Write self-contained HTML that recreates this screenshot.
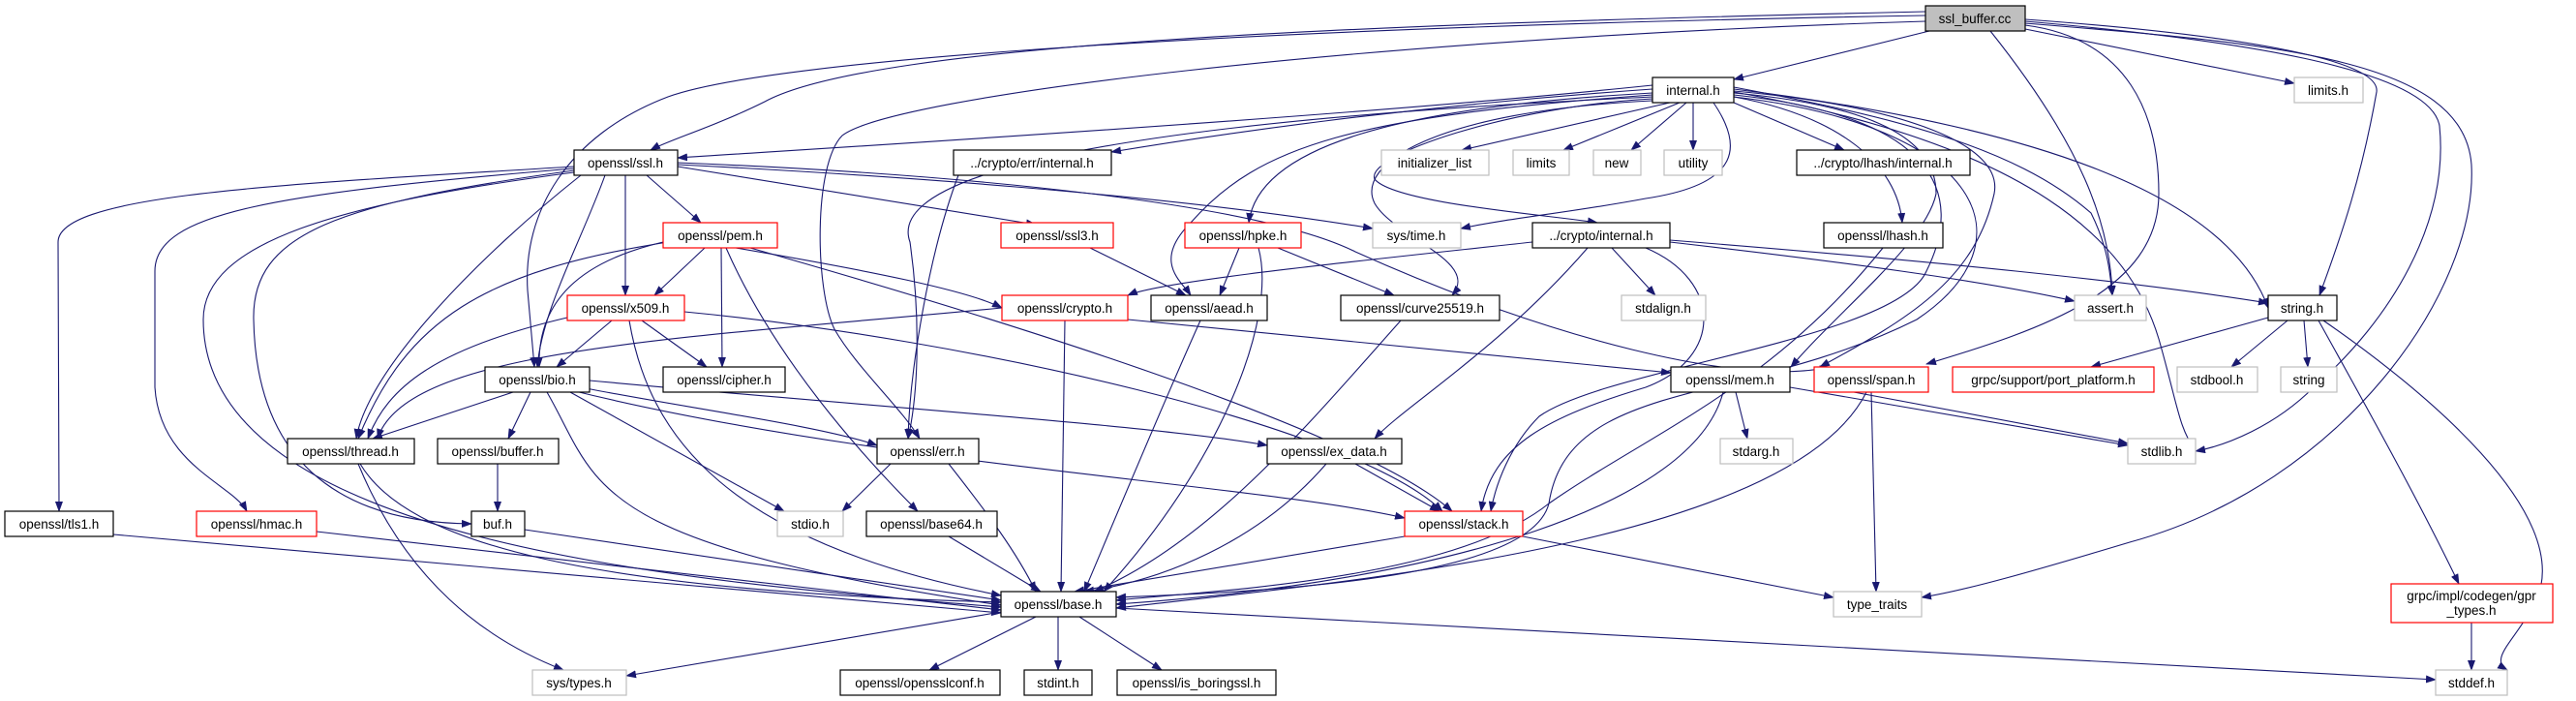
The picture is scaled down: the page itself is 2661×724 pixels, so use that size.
<!DOCTYPE html>
<html><head><meta charset="utf-8"><style>
html,body{margin:0;padding:0;background:#fff;}
svg{display:block;}
text{font-family:"Liberation Sans",sans-serif;font-size:13.5px;fill:#000;text-anchor:middle;}
.e{fill:none;stroke:#191970;stroke-width:1.1;marker-end:url(#a);}
.n{fill:#fff;stroke:#000;stroke-width:1.2;}
.g{fill:#fff;stroke:#bfbfbf;stroke-width:1.2;}
.r{fill:#fff;stroke:#ff0000;stroke-width:1.2;}
</style></head><body>
<svg width="2661" height="724" viewBox="0 0 2661 724" xmlns="http://www.w3.org/2000/svg">
<defs><marker id="a" markerWidth="11" markerHeight="8" refX="10" refY="4" orient="auto" markerUnits="userSpaceOnUse"><path d="M0,0 L11,4 L0,8 z" fill="#191970"/></marker></defs>
<g>
<path class="e" d="M1993,32 L1791,82"/>
<path class="e" d="M1989,12 C1400,25 900,45 790,105 C740,130 690,145 672,155"/>
<path class="e" d="M1989,16 C1300,28 800,60 690,100 C585,140 540,220 545,300 L552,379"/>
<path class="e" d="M1989,22 C1400,40 920,100 870,140 C840,170 842,300 862,340 C885,380 930,420 950,453"/>
<path class="e" d="M2056,32 C2150,150 2180,230 2182,305"/>
<path class="e" d="M2092,30 L2370,86"/>
<path class="e" d="M2092,20 C2300,35 2460,60 2455,95 C2440,180 2420,240 2396,305"/>
<path class="e" d="M2092,22 C2300,40 2510,70 2520,130 C2530,230 2470,330 2390,400 C2350,440 2300,460 2268,466"/>
<path class="e" d="M2092,24 C2350,45 2545,60 2553,170 C2560,300 2420,500 2200,560 C2100,590 2030,610 1985,617"/>
<path class="e" d="M2092,26 C2200,40 2230,120 2230,200 C2230,300 2110,340 1990,376"/>
<path class="e" d="M1707,88 C1400,120 900,150 700,163"/>
<path class="e" d="M1707,92 C1450,110 1250,140 1148,157"/>
<path class="e" d="M1725,106 L1510,155"/>
<path class="e" d="M1735,106 L1615,155"/>
<path class="e" d="M1742,106 L1685,155"/>
<path class="e" d="M1749,106 L1749,155"/>
<path class="e" d="M1707,96 C1450,110 1300,150 1290,230"/>
<path class="e" d="M1707,98 C1400,120 1300,150 1230,230 C1190,270 1220,290 1230,305"/>
<path class="e" d="M1707,100 C1500,110 900,140 940,250 C950,320 950,400 938,453"/>
<path class="e" d="M1770,106 C1800,150 1800,190 1700,205 C1620,220 1560,225 1509,236"/>
<path class="e" d="M1707,102 C1560,110 1410,160 1420,185 C1440,210 1600,222 1650,230"/>
<path class="e" d="M1707,104 C1480,115 1400,170 1420,210 C1440,245 1530,270 1500,305"/>
<path class="e" d="M1791,106 L1905,155"/>
<path class="e" d="M1791,100 C1900,120 1960,170 1965,230"/>
<path class="e" d="M1791,96 C1950,110 2000,150 2000,200 C1990,250 1900,320 1850,379"/>
<path class="e" d="M1791,94 C1970,110 2070,150 2060,200 C2040,290 1970,330 1880,379"/>
<path class="e" d="M1791,98 C2000,120 2030,200 1990,280 C1960,350 1660,380 1590,430 C1560,460 1545,500 1540,528"/>
<path class="e" d="M1791,100 C2050,130 2100,250 1980,330 C1800,420 1620,390 1600,520 C1580,600 1300,611 1153,617"/>
<path class="e" d="M1791,95 C2100,150 2200,250 2230,350 C2250,420 2250,440 2268,466"/>
<path class="e" d="M1791,92 C2100,130 2300,200 2343,318"/>
<path class="e" d="M1791,90 C1950,120 2080,150 2160,220 C2180,260 2180,290 2182,305"/>
<path class="e" d="M593,172 C300,190 60,200 60,250 L61,528"/>
<path class="e" d="M593,174 C280,200 160,220 160,280 L160,400 C165,480 240,500 255,528"/>
<path class="e" d="M593,176 C350,210 260,240 262,330 C265,500 380,540 487,541"/>
<path class="e" d="M593,178 C350,210 210,250 210,330 C210,560 700,600 1034,627"/>
<path class="e" d="M600,181 C500,260 380,380 368,453"/>
<path class="e" d="M625,181 C600,250 560,320 555,379"/>
<path class="e" d="M646,181 L646,305"/>
<path class="e" d="M668,181 L724,230"/>
<path class="e" d="M700,172 L1070,232"/>
<path class="e" d="M700,170 C900,180 1200,200 1418,236"/>
<path class="e" d="M700,168 C1000,180 1300,210 1400,260 C1600,350 1800,400 1890,379"/>
<path class="e" d="M728,256 L676,305"/>
<path class="e" d="M685,250 C600,270 555,310 557,379"/>
<path class="e" d="M745,256 L746,379"/>
<path class="e" d="M750,256 C800,370 890,470 948,528"/>
<path class="e" d="M760,256 C900,280 1000,300 1035,318"/>
<path class="e" d="M775,256 C1000,320 1400,440 1500,528"/>
<path class="e" d="M690,250 C500,280 420,330 370,453"/>
<path class="e" d="M632,331 L575,379"/>
<path class="e" d="M663,331 L730,379"/>
<path class="e" d="M586,328 C450,360 400,400 380,453"/>
<path class="e" d="M650,331 C670,450 750,560 1034,615"/>
<path class="e" d="M707,322 C1000,350 1400,440 1490,528"/>
<path class="e" d="M1035,318 C700,350 420,360 390,453"/>
<path class="e" d="M1100,331 L1096,611"/>
<path class="e" d="M1165,330 L1726,385"/>
<path class="e" d="M990,181 C960,260 940,380 938,453"/>
<path class="e" d="M1126,256 L1225,305"/>
<path class="e" d="M1280,256 L1260,305"/>
<path class="e" d="M1300,256 C1320,330 1260,480 1140,611"/>
<path class="e" d="M1320,256 L1440,305"/>
<path class="e" d="M1240,331 C1200,420 1150,540 1120,611"/>
<path class="e" d="M1447,331 C1350,440 1250,560 1130,611"/>
<path class="e" d="M1583,250 C1400,270 1200,290 1165,305"/>
<path class="e" d="M1665,256 L1710,305"/>
<path class="e" d="M1725,250 C1900,270 2050,290 2143,311"/>
<path class="e" d="M1725,248 C2000,270 2200,290 2343,313"/>
<path class="e" d="M1640,256 C1550,360 1450,420 1420,453"/>
<path class="e" d="M1700,256 C1780,290 1780,370 1700,400 C1600,430 1540,460 1530,528"/>
<path class="e" d="M1945,256 C1830,400 1700,450 1600,520 C1500,600 1250,610 1153,620"/>
<path class="e" d="M530,405 L385,453"/>
<path class="e" d="M548,405 L525,453"/>
<path class="e" d="M580,400 L810,528"/>
<path class="e" d="M600,400 C700,420 850,440 906,460"/>
<path class="e" d="M609,393 C900,420 1200,440 1309,460"/>
<path class="e" d="M590,403 C900,480 1300,500 1451,535"/>
<path class="e" d="M565,405 C620,500 600,560 1034,625"/>
<path class="e" d="M514,479 L514,528"/>
<path class="e" d="M542,547 L1034,620"/>
<path class="e" d="M117,552 L1034,633"/>
<path class="e" d="M327,549 L1034,630"/>
<path class="e" d="M372,479 C420,560 600,610 1034,622"/>
<path class="e" d="M370,479 C420,600 500,660 582,692"/>
<path class="e" d="M920,479 L870,528"/>
<path class="e" d="M980,479 C1020,530 1050,570 1070,611"/>
<path class="e" d="M980,554 L1075,611"/>
<path class="e" d="M1400,479 L1487,528"/>
<path class="e" d="M1370,479 C1300,560 1200,600 1120,611"/>
<path class="e" d="M1451,554 L1110,611"/>
<path class="e" d="M1573,554 L1894,617"/>
<path class="e" d="M1780,405 C1750,520 1500,600 1153,624"/>
<path class="e" d="M1793,405 L1805,453"/>
<path class="e" d="M1849,400 L2198,460"/>
<path class="e" d="M1915,405 L2198,458"/>
<path class="e" d="M1933,405 L1938,611"/>
<path class="e" d="M1928,405 C1850,560 1400,600 1153,628"/>
<path class="e" d="M2343,328 L2160,379"/>
<path class="e" d="M2363,331 L2305,379"/>
<path class="e" d="M2380,331 L2384,379"/>
<path class="e" d="M2395,331 C2450,430 2500,520 2540,603"/>
<path class="e" d="M2400,331 C2500,400 2660,530 2620,620 C2600,660 2570,680 2590,692"/>
<path class="e" d="M2553,643 L2553,692"/>
<path class="e" d="M1034,632 L647,698"/>
<path class="e" d="M1070,637 L960,692"/>
<path class="e" d="M1093,637 L1093,692"/>
<path class="e" d="M1115,637 L1200,692"/>
<path class="e" d="M1153,628 L2516,702"/>
</g>
<rect x="1989" y="6" width="103" height="26" fill="#bfbfbf" stroke="#000" stroke-width="1.2"/><text x="2040" y="24">ssl_buffer.cc</text>
<rect class="n" x="1707" y="80" width="84" height="26"/><text x="1749" y="98">internal.h</text>
<rect class="g" x="2370" y="80" width="71" height="26"/><text x="2405" y="98">limits.h</text>
<rect class="n" x="593" y="155" width="107" height="26"/><text x="646" y="173">openssl/ssl.h</text>
<rect class="n" x="985" y="155" width="163" height="26"/><text x="1066" y="173">../crypto/err/internal.h</text>
<rect class="g" x="1427" y="155" width="111" height="26"/><text x="1482" y="173">initializer_list</text>
<rect class="g" x="1563" y="155" width="58" height="26"/><text x="1592" y="173">limits</text>
<rect class="g" x="1646" y="155" width="49" height="26"/><text x="1670" y="173">new</text>
<rect class="g" x="1719" y="155" width="60" height="26"/><text x="1749" y="173">utility</text>
<rect class="n" x="1856" y="155" width="179" height="26"/><text x="1945" y="173">../crypto/lhash/internal.h</text>
<rect class="r" x="685" y="230" width="118" height="26"/><text x="744" y="248">openssl/pem.h</text>
<rect class="r" x="1034" y="230" width="116" height="26"/><text x="1092" y="248">openssl/ssl3.h</text>
<rect class="r" x="1224" y="230" width="120" height="26"/><text x="1284" y="248">openssl/hpke.h</text>
<rect class="g" x="1418" y="230" width="91" height="26"/><text x="1463" y="248">sys/time.h</text>
<rect class="n" x="1583" y="230" width="142" height="26"/><text x="1654" y="248">../crypto/internal.h</text>
<rect class="n" x="1884" y="230" width="123" height="26"/><text x="1945" y="248">openssl/lhash.h</text>
<rect class="r" x="586" y="305" width="121" height="26"/><text x="646" y="323">openssl/x509.h</text>
<rect class="r" x="1035" y="305" width="130" height="26"/><text x="1100" y="323">openssl/crypto.h</text>
<rect class="n" x="1189" y="305" width="120" height="26"/><text x="1249" y="323">openssl/aead.h</text>
<rect class="n" x="1385" y="305" width="164" height="26"/><text x="1467" y="323">openssl/curve25519.h</text>
<rect class="g" x="1675" y="305" width="87" height="26"/><text x="1718" y="323">stdalign.h</text>
<rect class="g" x="2143" y="305" width="74" height="26"/><text x="2180" y="323">assert.h</text>
<rect class="n" x="2343" y="305" width="71" height="26"/><text x="2378" y="323">string.h</text>
<rect class="n" x="501" y="379" width="108" height="26"/><text x="555" y="397">openssl/bio.h</text>
<rect class="n" x="685" y="379" width="126" height="26"/><text x="748" y="397">openssl/cipher.h</text>
<rect class="n" x="1726" y="379" width="123" height="26"/><text x="1787" y="397">openssl/mem.h</text>
<rect class="r" x="1874" y="379" width="118" height="26"/><text x="1933" y="397">openssl/span.h</text>
<rect class="r" x="2017" y="379" width="208" height="26"/><text x="2121" y="397">grpc/support/port_platform.h</text>
<rect class="g" x="2249" y="379" width="83" height="26"/><text x="2290" y="397">stdbool.h</text>
<rect class="g" x="2356" y="379" width="58" height="26"/><text x="2385" y="397">string</text>
<rect class="n" x="297" y="453" width="131" height="26"/><text x="362" y="471">openssl/thread.h</text>
<rect class="n" x="452" y="453" width="125" height="26"/><text x="514" y="471">openssl/buffer.h</text>
<rect class="n" x="906" y="453" width="105" height="26"/><text x="958" y="471">openssl/err.h</text>
<rect class="n" x="1309" y="453" width="139" height="26"/><text x="1378" y="471">openssl/ex_data.h</text>
<rect class="g" x="1777" y="453" width="75" height="26"/><text x="1814" y="471">stdarg.h</text>
<rect class="g" x="2198" y="453" width="70" height="26"/><text x="2233" y="471">stdlib.h</text>
<rect class="n" x="5" y="528" width="112" height="26"/><text x="61" y="546">openssl/tls1.h</text>
<rect class="r" x="203" y="528" width="124" height="26"/><text x="265" y="546">openssl/hmac.h</text>
<rect class="n" x="487" y="528" width="55" height="26"/><text x="514" y="546">buf.h</text>
<rect class="g" x="803" y="528" width="68" height="26"/><text x="837" y="546">stdio.h</text>
<rect class="n" x="895" y="528" width="135" height="26"/><text x="962" y="546">openssl/base64.h</text>
<rect class="r" x="1451" y="528" width="122" height="26"/><text x="1512" y="546">openssl/stack.h</text>
<rect class="n" x="1034" y="611" width="119" height="26"/><text x="1093" y="629">openssl/base.h</text>
<rect class="g" x="1894" y="611" width="91" height="26"/><text x="1939" y="629">type_traits</text>
<rect class="r" x="2470" y="603" width="167" height="40"/><text x="2553" y="620">grpc/impl/codegen/gpr</text><text x="2553" y="635">_types.h</text>
<rect class="g" x="550" y="692" width="97" height="26"/><text x="598" y="710">sys/types.h</text>
<rect class="n" x="868" y="692" width="165" height="26"/><text x="950" y="710">openssl/opensslconf.h</text>
<rect class="n" x="1058" y="692" width="70" height="26"/><text x="1093" y="710">stdint.h</text>
<rect class="n" x="1154" y="692" width="164" height="26"/><text x="1236" y="710">openssl/is_boringssl.h</text>
<rect class="g" x="2516" y="692" width="74" height="26"/><text x="2553" y="710">stddef.h</text>
</svg>
</body></html>
